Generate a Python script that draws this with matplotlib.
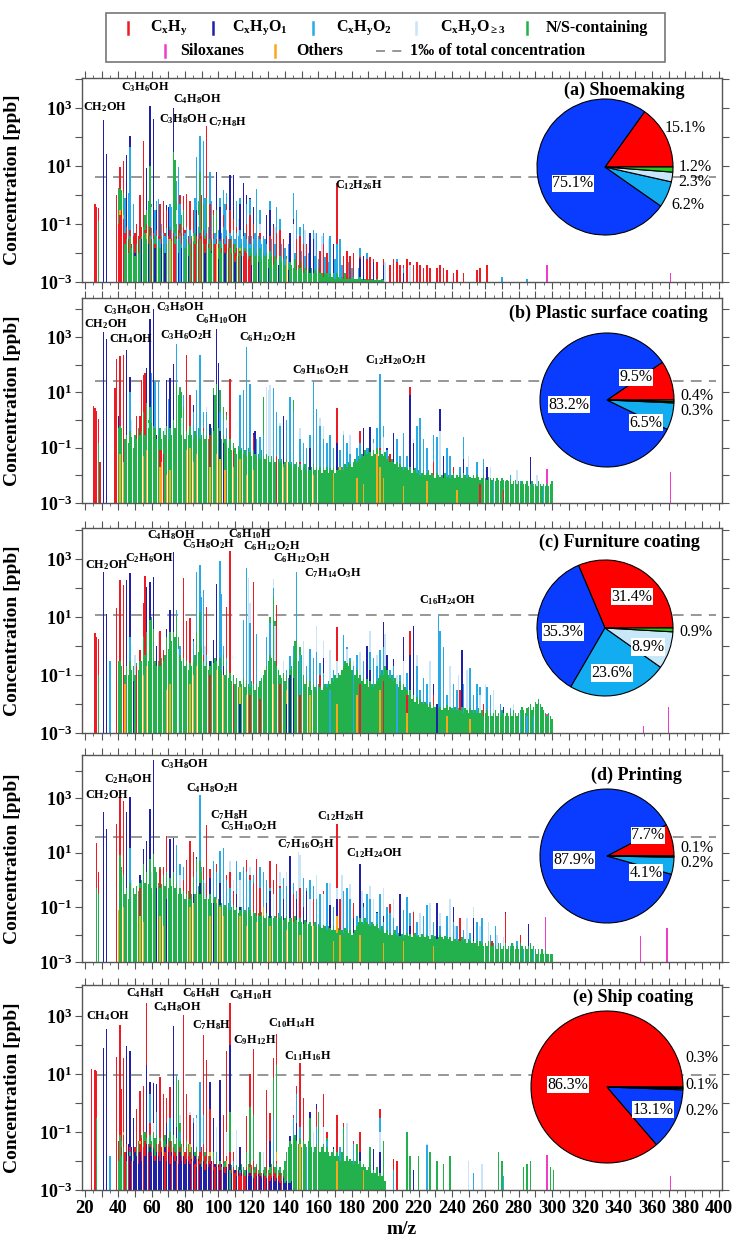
import numpy as np
import matplotlib
matplotlib.use('Agg')
import matplotlib.pyplot as plt
from matplotlib.lines import Line2D
from matplotlib.patches import Rectangle
from matplotlib.ticker import FixedLocator, FuncFormatter, MultipleLocator, NullLocator

plt.rcParams['font.family'] = ['Liberation Serif', 'DejaVu Serif']
plt.rcParams['font.weight'] = 'bold'
plt.rcParams['axes.labelweight'] = 'bold'
plt.rcParams['mathtext.fontset'] = 'custom'
plt.rcParams['mathtext.rm'] = 'Liberation Serif:bold'
plt.rcParams['mathtext.it'] = 'Liberation Serif:italic:bold'
plt.rcParams['mathtext.bf'] = 'Liberation Serif:bold'

# colours of the ion groups
col_hc = '#ed1c24'
col_o1 = '#2020a8'
col_o2 = '#29a9e6'
col_o3 = '#c9e4f6'
col_ns = '#22b14c'
col_si = '#f03cc8'
col_ot = '#f7a81b'
pie_cols = ['#ff0000', '#0a3cff', '#12adf0', '#c8e8fa', '#22cc22']

# ---------------- (a) Shoemaking : (m/z, ppb) ----------------
a_hc = [(26,0.5),(27,0.4),(28,0.35),(39,1.0),(41,9),(43,15),(51,0.1),(53,1.0),(55,70),(65,0.5),(67,0.6),(69,0.3),
        (77,1.0),(79,0.9),(81,1.1),(83,0.6),(85,0.3),(90,1.0),(93,230),(95,0.5),(97,0.3),(103,0.2),(105,0.5),(107,0.3),
        (109,0.15),(111,0.08),(117,0.1),(119,0.2),(121,0.1),(125,0.05),(131,0.04),(133,0.08),(135,0.05),(137,0.06),
        (139,0.03),(147,0.03),(149,0.04),(151,0.02),(153,0.02),(161,0.012),(163,0.02),(165,0.01),(171,2.5),(175,0.008),
        (177,0.012),(179,0.008),(181,0.01),(185,0.007),(189,0.006),(191,0.007),(193,0.006),(195,0.005),(199,0.006),
        (203,0.004),(205,0.006),(207,0.005),(209,0.004),(211,0.004),(213,0.006),(215,0.005),(217,0.004),(219,0.005),
        (221,0.004),(223,0.003),(225,0.004),(227,0.003),(231,0.003),(233,0.004),(235,0.003),(237,0.0025),(241,0.002),
        (243,0.0025),(247,0.002),(255,0.0025),(257,0.003),(261,0.004)]
a_hc_start = 40
a_hc_fill = [0.1,0.2,0.3,0.15,0.05,0.08,0.03,0.06,0.02,0.04,
             0.05,0.1,0.04,0.15,0.08,0.2,0.06,0.1,0.04,0.08,
             0.03,0.05,0.02,0.06,0.04,0.1,0.03,0.08,0.05,0.1,
             0.04,0.06,0.03,0.05,0.02,0.04,0.06,0.1,0.05,0.08,
             0.06,0.1,0.04,0.08,0.03,0.06,0.02,0.04,0.03,0.05,
             0.04,0.06,0.03,0.05,0.02,0.04,0.03,0.05,0.02,0.03,
             0.02,0.03,0.015,0.03,0.02,0.04,0.015,0.03,0.01,0.02,
             0.01,0.015,0.008,0.012,0.01,0.008,0.012,0.01,0.006,0.008]
a_o1 = [(31,400),(33,26),(45,24),(47,110),(57,8.5),(59,1150),(61,430),(63,0.3),(69,0.45),(70,0.4),(73,1000),(87,0.3),
        (99,6.3),(101,0.4),(107,5),(109,5),(113,0.5),(115,2.5),(117,1.0),(119,0.8),(121,0.4),(129,0.2),(131,0.3),
        (133,0.1),(143,0.05),(145,0.15),(155,0.05),(157,0.03),(169,0.02),(185,0.006),(187,0.008),(193,0.005),
        (199,0.004),(211,0.002),(48,0.02),(50,0.01),(54,0.03),(58,0.02),(62,0.015),(66,0.02),(68,0.01),(72,0.03),
        (76,0.01),(78,0.015),(82,0.008),(86,0.02),(92,0.01),(96,0.012),(100,0.006),(104,0.01),(110,0.005),(114,0.008),
        (120,0.004),(124,0.005),(130,0.003),(136,0.004),(142,0.0025)]
a_o2 = [(44,0.8),(46,1.2),(47,45),(49,0.5),(62,0.3),(63,0.6),(64,0.7),(71,0.5),(72,0.4),(75,3),(76,9),(77,0.5),
        (86,0.8),(87,21),(88,0.6),(89,105),(91,70),(92,0.8),(95,6),(96,0.6),(101,0.8),(103,1.5),(104,0.5),(105,1.2),
        (111,0.6),(113,0.8),(117,0.5),(119,0.7),(123,1.6),(125,0.3),(131,0.6),(135,0.4),(137,0.15),(145,1.15),
        (147,0.3),(149,0.08),(151,0.1),(157,0.06),(159,0.05),(163,0.05),(167,0.04),(171,0.02),(173,0.03),
        (185,0.015),(189,0.01),(207,0.006),(211,0.003),(270,0.0015),(285,0.0013),
        (132,0.03),(134,0.02),(138,0.02),(140,0.015),(142,0.02),(146,0.01),(150,0.012),(152,0.008),(154,0.01),
        (158,0.008),(160,0.006),(164,0.007),(166,0.005),(170,0.006),(174,0.004),(178,0.005),(180,0.003),(184,0.003)]
a_o2_start = 60
a_o2_fill = [0.05,0.03,0.08,0.04,0.06,0.03,0.1,0.05,0.04,0.07,
             0.03,0.06,0.04,0.08,0.05,0.03,0.07,0.04,0.06,0.03,
             0.05,0.08,0.04,0.06,0.03,0.05,0.1,0.04,0.07,0.05,
             0.04,0.06,0.03,0.05,0.08,0.04,0.06,0.03,0.05,0.04,
             0.06,0.03,0.05,0.08,0.04,0.06,0.03,0.05,0.04,0.06,
             0.03,0.05,0.04,0.06,0.03,0.04,0.05,0.03,0.04,0.02,
             0.04,0.03,0.05,0.02,0.04,0.03,0.02,0.04,0.03,0.02]
a_o3 = [(60,0.4),(75,0.3),(88,0.2),(105,0.3),(112,0.15),(125,0.1),(134,0.08),(145,0.1),(152,0.06),(158,0.05),
        (162,0.04),(166,0.03),(181,0.01),(200,0.005),(215,0.004)]
a_ns = [(28,0.13),(40,1.7),(41,1.6),(42,1.5),(43,1.2),(56,0.2),(57,0.3),(58,0.6),(59,10),(60,0.5),(62,0.3),(73,30),
        (74,16),(75,0.6),(78,0.2),(79,0.3),(85,0.3),(88,0.5),(89,6),(90,1.0),(91,0.5),(93,0.8),(97,0.2),(99,0.3)]
a_ns_start = 44
a_ns_fill = [0.02,0.03,0.01,0.04,0.015,0.02,0.008,0.02,0.01,0.03,
             0.04,0.08,0.05,0.03,0.1,0.04,0.07,0.02,0.04,0.02,
             0.03,0.015,0.04,0.02,0.05,0.02,0.03,0.08,0.025,0.06,
             0.04,0.1,0.03,0.05,0.02,0.04,0.015,0.03,0.02,0.02,
             0.04,0.025,0.05,0.02,0.08,0.03,0.06,0.02,0.04,0.02,
             0.015,0.03,0.01,0.02,0.02,0.04,0.015,0.025,0.01,0.02,
             0.02,0.01,0.02,0.015,0.03,0.01,0.02,0.008,0.015,0.01,
             0.02,0.008,0.015,0.01,0.008,0.015,0.01,0.02,0.008,0.01,
             0.008,0.015,0.006,0.01,0.008,0.01,0.006,0.012,0.008,0.004,
             0.008,0.006,0.004,0.008,0.005,0.006,0.004,0.008,0.003,0.005,
             0.004,0.003,0.006,0.0025,0.004,0.003,0.005,0.002,0.003,0.0025,
             0.003,0.002,0.003,0.002,0.0025,0.002,0.003,0.002,0.002,0.0015,
             0.002,0.002,0.0015,0.002,0.0015,0.002,0.0013,0.002,0.0015,0.0013,
             0.0015,0.0013,0.002,0.0013,0.0015,0.0013,0.0013,0.0015,0.0013,0.0013,
             0.0013,0.0015,0.0013,0.0012,0.0013,0.0012,0.0013,0.0012,0.0013,0.0012,
             0.0012,0.0013,0.0012,0.0012,0.0013,0.0012]
a_ot = [(41,0.3),(43,0.2),(57,0.05),(71,0.03),(85,0.04),(99,0.02),(113,0.015),(127,0.01),(141,0.006)]
a_si = [(297,0.004),(371,0.002)]
a_pie = [15.1, 75.1, 6.2, 2.3, 1.2]

# ---------------- (b) Plastic surface coating ----------------
b_hc = [(25,3.2),(26,2.8),(27,2.1),(28,1.1),(29,0.03),(38,14),(39,160),(41,200),(43,220),(51,1.4),(53,1.4),(54,28),
        (55,42),(56,50),(65,0.08),(66,0.08),(67,0.06),(81,220),(83,8),(91,0.5),(95,0.3),(105,2),(107,30),(109,0.08),
        (121,0.3),(135,0.05),(149,0.03),(171,2.8),(185,0.4),(197,0.1),(203,0.06),(215,16),(229,0.03),(241,0.02),
        (257,0.005),(271,0.003)]
b_o1 = [(31,1500),(33,870),(40,1.4),(45,350),(47,37),(57,75),(59,4500),(61,10000),(63,0.3),(69,28),(71,32),(73,110),
        (85,3.6),(95,0.7),(97,8),(99,2000),(100,120),(101,0.4),(103,0.15),(121,0.35),(122,0.4),(139,1.4),(155,0.1),
        (171,0.15),(187,0.5),(191,0.55),(201,0.1),(203,0.06),(205,0.35),(215,8),(217,0.15),(233,2.5),(235,0.05),
        (247,0.04),(261,0.02),(287,0.045)]
b_o2 = [(47,10),(60,50),(62,25),(64,25),(70,6),(75,570),(77,16),(79,8),(85,2),(87,12),(89,220),(91,2),(93,2),(97,8),
        (101,2),(103,1),(105,0.5),(113,8),(115,12),(117,450),(119,21),(123,0.2),(125,0.25),(127,0.3),(133,15),(135,2),
        (137,0.6),(141,1),(143,7),(145,2),(149,0.2),(151,0.15),(153,0.1),(155,0.3),(157,25),(159,2.5),(161,0.6),
        (163,0.2),(165,0.15),(167,0.3),(169,0.1),(173,0.08),(175,0.3),(177,0.15),(179,0.06),(183,0.1),(185,0.15),
        (189,0.1),(193,0.2),(195,0.5),(197,45),(199,0.6),(201,0.08),(207,0.2),(209,0.05),(211,0.35),(213,0.05),
        (219,0.6),(221,1.2),(223,0.2),(225,0.1),(229,0.3),(231,0.25),(237,0.1),(239,0.05),(245,0.02),(247,0.25),
        (249,0.02),(255,0.03),(259,0.04),(265,0.006),(275,0.01),(281,0.006),(289,0.005),(295,0.004)]
b_o3 = [(48,1),(58,0.8),(68,0.5),(78,1.2),(93,3),(105,1),(129,16),(130,12),(131,18),(137,0.8),(149,0.5),(161,1.2),
        (163,0.6),(175,0.4),(179,0.3),(193,0.15),(199,0.25),(217,0.2),(233,0.4),(250,0.05),(263,0.02),(279,0.015),
        (291,0.01)]
b_ns = [(28,0.15),(40,0.5),(41,0.6),(42,0.5),(55,2),(57,4),(58,1),(59,3),(60,0.8),(61,0.6),(73,1),(75,20),(76,8),
        (77,15),(78,10),(79,3),(97,15),(98,8),(99,20),(101,12),(103,3),(105,1.5),(127,7),(145,5.5)]
b_ns_start = 44
b_ns_fill = [0.2,0.3,0.15,0.4,0.25,0.1,0.3,0.2,0.5,0.3,
             0.4,0.6,0.3,0.8,0.5,0.4,0.6,0.3,0.5,0.2,
             0.3,0.5,0.2,0.4,0.3,0.6,0.2,0.5,0.3,0.4,
             0.5,0.8,0.4,0.6,0.3,0.5,0.2,0.4,0.3,0.6,
             0.3,0.2,0.4,0.3,0.5,0.2,0.3,0.4,0.2,0.3,
             0.2,0.3,0.5,0.4,0.6,0.3,0.5,0.4,0.2,0.3,
             0.2,0.15,0.1,0.2,0.08,0.15,0.1,0.06,0.12,0.08,
             0.1,0.06,0.08,0.05,0.1,0.07,0.05,0.08,0.06,0.05,
             0.06,0.04,0.08,0.05,0.04,0.06,0.05,0.03,0.05,0.04,
             0.03,0.05,0.04,0.03,0.04,0.025,0.03,0.04,0.03,0.025,
             0.03,0.02,0.025,0.03,0.02,0.025,0.015,0.02,0.025,0.015,
             0.02,0.015,0.02,0.025,0.015,0.02,0.015,0.02,0.012,0.018,
             0.015,0.02,0.012,0.018,0.015,0.02,0.012,0.015,0.02,0.015,
             0.02,0.015,0.025,0.02,0.03,0.025,0.02,0.03,0.04,0.03,
             0.05,0.04,0.06,0.05,0.08,0.06,0.1,0.07,0.05,0.08,
             0.06,0.1,0.05,0.08,0.06,0.05,0.07,0.04,0.05,0.03,
             0.04,0.03,0.025,0.03,0.02,0.025,0.02,0.015,0.02,0.018,
             0.015,0.02,0.012,0.015,0.018,0.012,0.015,0.01,0.012,0.015,
             0.01,0.012,0.015,0.01,0.012,0.01,0.008,0.012,0.01,0.009,
             0.01,0.008,0.012,0.009,0.01,0.008,0.01,0.012,0.008,0.01,
             0.009,0.01,0.008,0.012,0.01,0.008,0.01,0.009,0.008,0.01,
             0.008,0.01,0.009,0.007,0.008,0.01,0.008,0.007,0.009,0.008,
             0.007,0.008,0.006,0.008,0.007,0.006,0.008,0.007,0.006,0.007,
             0.006,0.007,0.005,0.006,0.007,0.005,0.006,0.005,0.006,0.005,
             0.005,0.006,0.004,0.005,0.006,0.004,0.005,0.004,0.006,0.005,
             0.004,0.005,0.004,0.005,0.004,0.005,0.006]
b_ot = [(41,0.06),(43,0.03),(55,0.05),(57,0.08),(65,0.02),(66,0.03),(69,0.01),(71,0.015),(81,0.08),(83,0.1),(85,0.03),
        (87,0.06),(95,0.02),(99,0.06),(101,0.04),(104,0.015),(109,0.02),(113,0.04),(117,0.01),(121,0.015),(139,0.02),
        (141,0.03),(157,0.01),(169,0.012),(173,0.02),(183,0.008),(187,0.005),(195,0.06),(197,0.02),(199,0.008),
        (211,0.004),(225,0.006),(243,0.003)]
b_si = [(297,0.017),(371,0.013)]
b_pie = [9.5, 83.2, 6.5, 0.3, 0.4]

# ---------------- (c) Furniture coating ----------------
c_hc = [(26,2.8),(27,2.0),(28,1.8),(39,20),(41,190),(43,125),(51,0.2),(53,0.7),(55,30),(56,250),(65,3.4),(67,0.7),
        (79,220),(81,7.5),(83,9),(91,0.5),(93,22),(95,0.1),(105,22),(107,1900),(109,0.05),(119,0.02),(121,165),
        (125,0.015),(135,25),(137,0.05),(149,0.02),(161,0.1),(171,4.4),(185,0.05),(199,0.06),(213,0.02),(215,3.4),
        (229,0.02),(245,0.03),(259,0.01)]
c_o1 = [(31,370),(33,13),(45,190),(47,340),(49,0.06),(57,110),(59,165),(61,235),(63,1),(69,4),(71,18),(73,1700),
        (85,1.8),(95,0.3),(97,1.55),(99,140),(103,0.2),(113,0.01),(141,0.01),(143,0.1),(145,0.08),(163,0.4),(189,1),
        (191,0.15),(199,6.8),(201,0.5),(205,0.35),(211,2),(215,0.5),(217,5),(229,0.05),(231,0.01),(246,0.7),(271,0.008)]
c_o2 = [(35,0.3),(47,2),(75,17),(77,1.0),(85,1.5),(87,370),(89,630),(90,50),(91,85),(93,0.5),(101,830),(102,63),
        (103,1),(105,0.4),(115,8),(117,490),(119,6),(123,2.6),(129,2),(131,6),(133,100),(141,0.15),(143,0.45),(145,1),
        (147,370),(149,0.5),(153,0.2),(155,0.8),(157,0.4),(159,0.6),(161,0.25),(163,0.12),(165,0.05),(167,0.03),
        (169,0.15),(175,2.3),(177,0.9),(179,0.4),(181,0.2),(183,0.5),(187,0.3),(191,0.6),(193,0.4),(195,0.2),
        (197,0.7),(199,0.9),(203,0.15),(205,0.2),(207,0.05),(209,0.1),(213,0.12),(219,0.2),(221,0.03),(223,0.08),
        (225,0.05),(227,0.012),(232,11.5),(233,3.4),(235,0.9),(237,0.02),(241,0.05),(243,0.03),(247,0.05),
        (251,0.18),(253,0.02),(255,0.05),(257,0.04),(261,0.04),(263,0.02),(269,0.01),(275,0.007),(281,0.005),
        (285,0.004),(289,0.004)]
c_o3 = [(50,0.5),(64,3),(76,0.8),(92,1.0),(118,220),(119,30),(133,200),(134,5),(139,0.3),(151,1.5),(159,5),(163,1.5),
        (167,0.7),(171,0.3),(177,0.8),(181,0.3),(185,0.6),(191,3.4),(195,0.5),(200,2.5),(207,0.1),(211,0.3),
        (219,0.5),(227,0.3),(239,0.2),(244,0.1),(249,0.15),(257,0.02),(260,0.05),(265,0.03),(277,0.01)]
c_ns = [(28,0.1),(40,0.3),(41,0.3),(42,0.2),(55,2),(56,0.5),(57,3),(59,8),(60,10),(61,4),(73,3),(75,11),(76,2),
        (87,3),(89,15),(90,0.9),(103,0.5),(131,10),(133,55),(134,7),(146,1.5),(147,1.6),(149,0.9),(150,0.5)]
c_ns_start = 44
c_ns_fill = [0.1,0.2,0.1,0.3,0.15,0.2,0.1,0.25,0.15,0.3,
             0.3,0.5,0.2,0.4,0.3,0.5,0.8,0.4,0.3,0.2,
             0.3,0.2,0.4,0.3,0.5,2,0.8,3,1.5,2.5,
             2,1.5,0.8,0.5,0.3,0.4,0.2,0.3,0.15,0.25,
             0.2,0.3,0.5,0.8,0.6,1,0.5,0.3,0.2,0.3,
             0.15,0.2,0.3,0.25,0.4,0.3,0.2,0.4,0.15,0.3,
             0.1,0.15,0.08,0.12,0.06,0.1,0.05,0.08,0.04,0.06,
             0.05,0.08,0.04,0.06,0.05,0.04,0.06,0.05,0.03,0.05,
             0.04,0.06,0.08,0.1,0.15,0.2,0.3,0.5,0.4,0.8,
             0.3,0.2,0.15,0.1,0.08,0.12,0.06,0.1,0.08,0.15,
             0.2,0.3,0.5,0.4,0.3,0.5,0.2,0.1,0.05,0.08,
             0.04,0.06,0.03,0.05,0.04,0.03,0.05,0.04,0.03,0.04,
             0.05,0.04,0.06,0.05,0.08,0.06,0.1,0.08,0.12,0.1,
             0.15,0.2,0.3,0.25,0.2,0.3,0.15,0.2,0.1,0.15,
             0.08,0.1,0.06,0.08,0.05,0.07,0.04,0.06,0.05,0.04,
             0.05,0.06,0.08,0.1,0.15,0.1,0.2,0.15,0.1,0.08,
             0.1,0.06,0.08,0.05,0.04,0.06,0.03,0.05,0.04,0.03,
             0.02,0.03,0.015,0.02,0.012,0.018,0.01,0.015,0.012,0.01,
             0.012,0.01,0.008,0.01,0.007,0.009,0.008,0.01,0.007,0.008,
             0.006,0.008,0.007,0.009,0.006,0.008,0.007,0.006,0.008,0.006,
             0.007,0.006,0.008,0.005,0.007,0.006,0.005,0.007,0.006,0.005,
             0.006,0.005,0.007,0.005,0.006,0.004,0.005,0.006,0.004,0.005,
             0.004,0.005,0.006,0.004,0.005,0.004,0.006,0.005,0.004,0.005,
             0.004,0.005,0.004,0.006,0.005,0.004,0.005,0.006,0.008,0.006,
             0.005,0.007,0.008,0.01,0.006,0.008,0.012,0.01,0.015,0.01,
             0.008,0.006,0.005,0.004,0.005,0.004,0.003]
c_ot = [(44,0.05),(55,0.1),(57,0.2),(69,0.03),(71,0.05),(83,0.05),(85,0.1),(87,0.2),(99,0.15),(103,0.1),(113,0.04),
        (117,0.02),(125,0.015),(133,0.05),(141,0.03),(155,0.02),(171,0.01),(183,0.02),(197,0.03),(213,0.005),
        (237,0.004),(251,0.003)]
c_si = [(297,0.0045),(355,0.0018),(370,0.008)]
c_pie = [31.4, 35.3, 23.6, 8.9, 0.9]

# ---------------- (d) Printing ----------------
d_hc = [(27,23),(28,2),(39,110),(41,1100),(43,800),(53,0.5),(65,2.5),(67,3),(69,40),(79,1),(81,5.4),(83,28),(85,11),
        (91,3),(93,100),(95,2.5),(99,4),(105,1.5),(107,2),(109,0.4),(117,5.4),(119,1.5),(121,0.8),(123,6),(125,0.5),
        (131,5),(133,1),(135,4),(137,0.6),(145,0.3),(149,0.5),(157,0.2),(163,0.4),(171,115),(173,0.2),(181,0.15),
        (203,0.13),(217,0.07),(245,0.04),(264,0.006),(272,0.06),(281,0.01)]
d_o1 = [(31,320),(33,75),(45,320),(47,1100),(53,1.5),(55,14),(57,27),(59,400),(61,25000),(63,0.5),(69,0.2),(71,32),
        (73,35),(85,0.3),(87,7),(89,0.8),(95,1.2),(97,0.15),(101,0.8),(111,0.3),(113,0.1),(129,0.15),(131,0.4),
        (139,0.2),(143,7.5),(147,0.2),(151,0.1),(153,0.4),(167,0.12),(171,0.2),(181,0.04),(185,4),(187,0.15),
        (195,0.07),(199,0.05),(209,0.3),(215,0.02),(231,0.15),(241,0.1),(253,0.04),(272,0.07),(286,0.025)]
d_o2 = [(47,15),(75,20),(77,4),(79,3),(87,2),(89,1250),(90,3),(91,1),(97,5),(99,2),(101,12),(103,15),(105,1),(107,0.5),
        (111,5),(113,2),(115,3),(117,2),(119,1),(121,1.5),(125,3),(127,2),(129,1),(131,0.5),(133,1),(137,0.5),
        (139,1.2),(141,0.6),(145,0.8),(147,0.4),(151,1.2),(153,0.5),(155,1),(157,0.6),(159,0.2),(161,0.3),(165,0.8),
        (169,0.1),(175,0.4),(177,0.5),(179,0.2),(183,0.05),(187,0.1),(189,0.3),(191,0.2),(195,0.06),(197,0.3),
        (199,0.03),(201,0.1),(203,0.06),(205,0.04),(207,0.02),(211,0.08),(213,0.25),(215,0.06),(219,0.03),
        (223,0.05),(225,0.12),(229,0.03),(233,0.02),(237,0.05),(241,0.03),(243,0.02),(247,0.015),(251,0.012),
        (255,0.03),(258,0.04),(263,0.01),(266,0.02),(269,0.005),(275,0.004),(279,0.006),(283,0.003),(289,0.003)]
d_o3 = [(48,1),(60,2),(77,1.5),(92,0.8),(107,5),(109,1),(113,1),(119,3),(125,0.5),(133,0.3),(137,2),(141,2),(148,11),
        (149,8),(155,0.2),(159,1.5),(163,0.3),(167,0.8),(171,0.5),(174,1.5),(179,0.7),(186,0.4),(191,0.6),(193,0.2),
        (199,0.5),(205,0.2),(209,0.3),(217,0.08),(221,0.06),(227,0.15),(233,0.06),(239,0.2),(242,0.02),(249,0.04),
        (253,0.1),(257,0.02),(262,0.03),(267,0.01),(271,0.008),(277,0.005)]
d_ns = [(27,0.5),(28,0.3),(41,8),(42,3),(43,1.5),(55,4),(57,2),(59,6),(61,9),(62,3),(63,2),(65,3),(67,1.5),(69,2),
        (71,1.2),(73,2),(75,0.8),(85,1.3),(87,6),(89,5),(90,2),(91,0.8)]
d_ns_start = 44
d_ns_fill = [0.3,0.5,0.2,0.8,1,0.5,0.3,0.6,0.4,0.8,
             1,0.6,0.8,1.2,0.7,1,0.5,0.8,1,0.6,
             0.8,0.5,0.7,0.4,0.6,0.8,0.5,0.4,0.6,0.3,
             0.5,0.4,0.3,0.5,0.3,0.4,0.2,0.3,0.4,0.2,
             0.3,0.5,0.3,0.4,0.6,0.3,0.2,0.3,0.2,0.25,
             0.2,0.3,0.15,0.2,0.25,0.15,0.2,0.12,0.15,0.1,
             0.12,0.1,0.15,0.08,0.1,0.12,0.08,0.1,0.06,0.08,
             0.1,0.07,0.08,0.06,0.1,0.08,0.05,0.07,0.06,0.05,
             0.06,0.05,0.07,0.05,0.04,0.06,0.05,0.04,0.05,0.04,
             0.05,0.04,0.06,0.04,0.05,0.035,0.04,0.05,0.03,0.04,
             0.04,0.03,0.05,0.035,0.03,0.04,0.03,0.025,0.035,0.03,
             0.025,0.03,0.02,0.025,0.03,0.02,0.025,0.02,0.018,0.022,
             0.02,0.015,0.02,0.018,0.015,0.02,0.015,0.012,0.018,0.015,
             0.015,0.012,0.018,0.015,0.012,0.015,0.01,0.012,0.015,0.02,
             0.03,0.04,0.03,0.025,0.04,0.03,0.025,0.02,0.03,0.025,
             0.02,0.025,0.018,0.015,0.02,0.015,0.012,0.015,0.01,0.012,
             0.01,0.012,0.015,0.01,0.012,0.009,0.011,0.008,0.01,0.012,
             0.009,0.011,0.008,0.01,0.012,0.009,0.01,0.008,0.011,0.009,
             0.008,0.01,0.009,0.007,0.01,0.008,0.009,0.007,0.008,0.01,
             0.008,0.007,0.009,0.008,0.007,0.008,0.006,0.008,0.007,0.006,
             0.007,0.006,0.008,0.006,0.007,0.005,0.007,0.006,0.005,0.006,
             0.005,0.006,0.004,0.006,0.005,0.004,0.005,0.004,0.006,0.005,
             0.004,0.005,0.004,0.003,0.005,0.004,0.003,0.004,0.005,0.003,
             0.004,0.003,0.005,0.004,0.003,0.004,0.003,0.005,0.004,0.003,
             0.004,0.003,0.004,0.005,0.003,0.004,0.003,0.002,0.003,0.002,
             0.003,0.002,0.003,0.002,0.002,0.002,0.002]
d_ot = [(40,0.08),(43,0.1),(53,0.05),(55,0.03),(65,0.05),(67,0.02),(83,0.1),(85,0.15),(87,0.4),(95,0.05),(99,0.2),
        (101,0.1),(103,0.05),(113,0.05),(117,0.02),(123,0.03),(127,0.1),(131,0.02),(141,0.015),(149,0.01),(153,0.03),
        (157,0.02),(169,0.006),(171,0.05),(173,0.01),(185,0.01),(199,0.005),(211,0.006),(229,0.004)]
d_si = [(296,0.043),(353,0.009),(369,0.017)]
d_pie = [7.7, 87.9, 4.1, 0.2, 0.1]

# ---------------- (e) Ship coating ----------------
e_hc = [(24,15),(26,14),(27,13),(39,40),(41,500),(42,3),(43,37),(51,0.6),(53,2.5),(55,4),(57,2700),(59,0.2),(65,8),
        (67,2),(69,1.5),(71,3.5),(79,1100),(81,2),(83,0.4),(91,220),(93,30),(95,0.6),(103,0.4),(105,60),(107,2800),
        (109,0.02),(117,0.35),(119,10),(121,70),(129,2.8),(131,0.45),(133,35),(135,230),(145,0.4),(147,4),(149,23),
        (151,1.5),(159,0.6),(163,2),(165,0.1),(171,0.4),(175,0.2),(181,0.05),(185,0.1),(197,0.6),(205,0.012),
        (207,0.01)]
e_hc_start = 40
e_hc_fill = [0.05,0.1,0.03,0.08,0.02,0.04,0.015,0.03,0.01,0.02,
             0.03,0.05,0.02,0.04,0.06,0.03,0.05,0.1,0.02,0.04,
             0.02,0.03,0.015,0.04,0.02,0.05,0.03,0.06,0.02,0.04,
             0.03,0.05,0.015,0.03,0.02,0.01,0.02,0.03,0.015,0.05,
             0.02,0.03,0.015,0.02,0.01,0.015,0.008,0.012,0.01,0.02,
             0.03,0.04,0.015,0.02,0.01,0.015,0.008,0.01,0.006,0.008,
             0.006,0.008,0.005,0.01,0.006,0.015,0.008,0.02,0.005,0.006,
             0.004,0.005,0.003,0.004,0.003,0.004,0.003,0.006,0.004,0.008,
             0.006,0.01,0.004,0.006,0.003,0.004,0.003,0.004,0.003,0.005,
             0.003,0.004,0.003,0.006,0.004,0.01,0.003,0.004,0.002,0.003]
e_o1 = [(31,80),(33,350),(45,95),(47,60),(49,0.3),(57,20),(59,5.5),(61,4.8),(63,4.5),(69,0.2),(73,450),(75,0.15),
        (85,0.2),(95,5.5),(97,0.3),(101,6),(107,100),(113,0.03),(131,0.05),(143,0.07),(147,0.2),(155,0.5),(159,0.9),
        (169,0.03),(185,0.02),(193,0.025),(197,0.02),(217,0.005)]
e_o1_start = 45
e_o1_fill = [0.02,0.04,0.015,0.03,0.01,0.02,0.015,0.008,0.02,0.01,
             0.03,0.015,0.04,0.02,0.03,0.015,0.025,0.01,0.02,0.015,
             0.01,0.02,0.015,0.03,0.01,0.02,0.008,0.02,0.015,0.01,
             0.015,0.008,0.02,0.01,0.015,0.008,0.012,0.01,0.008,0.012,
             0.01,0.015,0.006,0.012,0.008,0.006,0.01,0.005,0.008,0.006,
             0.008,0.01,0.005,0.008,0.006,0.007,0.005,0.008,0.006,0.004,
             0.006,0.005,0.008,0.004,0.006,0.005,0.003,0.005,0.004,0.005,
             0.004,0.003,0.005,0.003,0.004,0.003,0.0025,0.004,0.003,0.0035,
             0.003,0.0025,0.0035,0.003,0.0025,0.003,0.002,0.0025,0.003,0.002,
             0.0025,0.002,0.0018,0.002,0.0025,0.0018,0.002,0.0018,0.0017,0.002]
e_o2 = [(35,0.015),(49,0.3),(59,2),(63,0.5),(71,0.3),(75,9.5),(77,0.1),(85,0.3),(87,0.4),(89,5.5),(91,0.4),(97,0.3),
        (99,0.02),(103,0.4),(109,0.01),(133,0.3),(145,0.3),(147,2),(149,0.15),(153,0.03),(159,0.15),(165,0.05),
        (173,0.03),(181,0.04),(197,0.3),(205,0.005),(225,0.035),(253,0.004),(271,0.003)]
e_o3 = [(61,0.2),(77,0.4),(83,0.5),(87,0.3),(99,0.15),(105,0.1),(111,0.12),(127,0.02),(157,0.1),(163,0.15),(177,0.2),
        (197,0.1),(225,0.04),(250,0.01),(258,0.008)]
e_ns = [(27,0.3),(41,0.08),(42,0.05),(55,0.1),(75,7),(76,6),(77,0.2),(81,0.05),(97,0.02),(107,0.5),(113,0.03),
        (117,0.02),(119,0.7),(121,0.4),(125,0.02),(133,7),(135,20),(143,0.02),(155,0.3),(157,0.1),(160,0.5),
        (165,0.06),(175,0.15),(183,0.04),(191,0.03),(199,0.05),(213,0.1),(215,0.015),(220,0.015),(227,0.02),
        (231,0.01),(235,0.008),(239,0.015),(268,0.02),(270,0.01),(283,0.006),(285,0.008),(287,0.01),(299,0.006),
        (301,0.005)]
e_ns_start = 40
e_ns_fill = [0.01,0.02,0.015,0.03,0.02,0.01,0.015,0.02,0.01,0.015,
             0.02,0.03,0.05,0.04,0.08,0.05,0.1,0.06,0.04,0.08,
             0.05,0.1,0.06,0.08,0.04,0.06,0.03,0.05,0.08,0.04,
             0.06,0.1,0.05,0.08,0.04,0.06,0.03,0.05,0.04,0.03,
             0.02,0.03,0.04,0.02,0.03,0.015,0.02,0.03,0.015,0.02,
             0.01,0.015,0.02,0.01,0.015,0.008,0.01,0.015,0.008,0.01,
             0.008,0.01,0.006,0.008,0.01,0.006,0.008,0.005,0.007,0.006,
             0.005,0.007,0.006,0.005,0.008,0.006,0.005,0.007,0.008,0.006,
             0.007,0.005,0.006,0.008,0.005,0.006,0.004,0.005,0.006,0.004,
             0.005,0.006,0.008,0.01,0.006,0.008,0.005,0.006,0.004,0.005,
             0.01,0.02,0.03,0.05,0.04,0.06,0.08,0.05,0.04,0.06,
             0.03,0.05,0.04,0.03,0.05,0.04,0.03,0.02,0.03,0.04,
             0.03,0.02,0.03,0.04,0.02,0.03,0.02,0.015,0.02,0.025,
             0.015,0.02,0.015,0.01,0.02,0.015,0.01,0.015,0.01,0.012,
             0.01,0.008,0.01,0.012,0.008,0.01,0.006,0.008,0.006,0.005,
             0.006,0.005,0.004,0.005,0.004,0.006,0.003,0.004,0.003,0.003,
             0.002]
e_ot = [(43,0.1),(53,0.05),(55,0.03),(67,0.03),(79,0.02),(83,0.04),(95,0.02),(105,0.01),(121,0.01),(135,0.02),
        (149,0.04),(161,0.02),(165,0.03),(171,0.01),(187,0.005)]
e_si = [(297,0.016),(371,0.003)]
e_pie = [86.3, 13.1, 0.3, 0.1, 0.2]

# 1 per mille of the total concentration (dashed line)
dash_levels = [4.2, 26, 11.7, 37, 9.3]
titles = ['(a) Shoemaking', '(b) Plastic surface coating', '(c) Furniture coating', '(d) Printing', '(e) Ship coating']

# labelled ions: (text, m/z of text start, height)
a_peaks = [('CH$_2$OH',18.8,1050),('C$_3$H$_6$OH',41.6,5100),('C$_4$H$_8$OH',72.8,2000),('C$_3$H$_8$OH',64.4,400),
           ('C$_7$H$_8$H',93.8,316),('C$_{12}$H$_{26}$H',170,2.2)]
b_peaks = [('C$_3$H$_6$OH',30.8,9500),('C$_3$H$_8$OH',62.8,12600),('CH$_2$OH',19.6,3000),('CH$_4$OH',34.5,850),
           ('C$_6$H$_{10}$OH',86.2,4500),('C$_3$H$_6$O$_2$H',64.8,1150),('C$_6$H$_{12}$O$_2$H',112.2,1000),
           ('C$_9$H$_{16}$O$_2$H',144.2,65),('C$_{12}$H$_{20}$O$_2$H',188.2,147)]
c_peaks = [('CH$_2$OH',19.9,630),('C$_2$H$_6$OH',43.8,1080),('C$_4$H$_8$OH',57.1,6700),('C$_5$H$_8$O$_2$H',78,3160),
           ('C$_8$H$_{10}$H',105.8,7000),('C$_6$H$_{12}$O$_2$H',114.8,2770),('C$_6$H$_{12}$O$_3$H',132.6,1080),
           ('C$_7$H$_{14}$O$_3$H',151.1,325),('C$_{16}$H$_{24}$OH',220.1,38)]
d_peaks = [('C$_3$H$_8$OH',65,17800),('C$_2$H$_6$OH',31.3,5100),('CH$_2$OH',20,1300),('C$_4$H$_8$O$_2$H',80.8,2330),
           ('C$_7$H$_8$H',94.7,245),('C$_5$H$_{10}$O$_2$H',101.2,91),('C$_{12}$H$_{26}$H',159.1,214),
           ('C$_7$H$_{16}$O$_3$H',135,20),('C$_{12}$H$_{24}$OH',176.6,9.5)]
e_peaks = [('CH$_4$OH',20.6,1020),('C$_4$H$_8$H',44.6,6000),('C$_4$H$_8$OH',60.6,2100),('C$_6$H$_6$H',78.2,6000),
           ('C$_8$H$_{10}$H',106.6,5300),('C$_7$H$_8$H',84.2,490),('C$_9$H$_{12}$H',108.6,148),
           ('C$_{10}$H$_{14}$H',129.6,560),('C$_{11}$H$_{16}$H',139.6,40)]

# pie percentage labels: (text, x, y, boxed) in pie radius units
a_pie_txt = [('75.1%',-0.47,-0.24,True),('15.1%',1.18,0.57,False),('1.2%',1.32,0.0,False),('2.3%',1.32,-0.22,False),('6.2%',1.22,-0.56,False)]
b_pie_txt = [('83.2%',-0.57,-0.07,True),('9.5%',0.43,0.34,True),('6.5%',0.58,-0.34,True),('0.4%',1.34,0.06,False),('0.3%',1.34,-0.16,False)]
c_pie_txt = [('35.3%',-0.62,-0.06,True),('31.4%',0.4,0.46,True),('23.6%',0.1,-0.66,True),('8.9%',0.63,-0.28,True),('0.9%',1.34,-0.06,False)]
d_pie_txt = [('87.9%',-0.49,-0.06,True),('7.7%',0.61,0.31,True),('4.1%',0.58,-0.25,True),('0.1%',1.34,0.12,False),('0.2%',1.34,-0.1,False)]
e_pie_txt = [('86.3%',-0.51,0.03,True),('13.1%',0.61,-0.3,True),('0.3%',1.25,0.38,False),('0.1%',1.25,0.03,False),('0.2%',1.25,-0.32,False)]


def fill_pairs(start, vals):
    return list(zip(range(start, start + len(vals)), vals))


panels = [
    dict(series=[(a_hc, col_hc), (fill_pairs(a_hc_start, a_hc_fill), col_hc), (a_o1, col_o1),
                 (a_o2, col_o2), (fill_pairs(a_o2_start, a_o2_fill), col_o2),
                 (a_o3, col_o3), (a_ns, col_ns), (fill_pairs(a_ns_start, a_ns_fill), col_ns), (a_ot, col_ot), (a_si, col_si)],
         top=1.08e4, peaks=a_peaks, pie=a_pie, pie_txt=a_pie_txt),
    dict(series=[(b_hc, col_hc), (b_o1, col_o1), (b_o2, col_o2), (b_o3, col_o3), (b_ns, col_ns),
                 (fill_pairs(b_ns_start, b_ns_fill), col_ns), (b_ot, col_ot), (b_si, col_si)],
         top=2.6e4, peaks=b_peaks, pie=b_pie, pie_txt=b_pie_txt),
    dict(series=[(c_hc, col_hc), (c_o1, col_o1), (c_o2, col_o2), (c_o3, col_o3), (c_ns, col_ns),
                 (fill_pairs(c_ns_start, c_ns_fill), col_ns), (c_ot, col_ot), (c_si, col_si)],
         top=1.17e4, peaks=c_peaks, pie=c_pie, pie_txt=c_pie_txt),
    dict(series=[(d_hc, col_hc), (d_o1, col_o1), (d_o2, col_o2), (d_o3, col_o3), (d_ns, col_ns),
                 (fill_pairs(d_ns_start, d_ns_fill), col_ns), (d_ot, col_ot), (d_si, col_si)],
         top=3.8e4, peaks=d_peaks, pie=d_pie, pie_txt=d_pie_txt),
    dict(series=[(e_hc, col_hc), (fill_pairs(e_hc_start, e_hc_fill), col_hc), (e_o1, col_o1),
                 (fill_pairs(e_o1_start, e_o1_fill), col_o1), (e_o2, col_o2), (e_o3, col_o3), (e_ns, col_ns),
                 (fill_pairs(e_ns_start, e_ns_fill), col_ns), (e_ot, col_ot), (e_si, col_si)],
         top=1.17e4, peaks=e_peaks, pie=e_pie, pie_txt=e_pie_txt),
]

# layout in pixels
W, H = 738, 1243
ax_px = [(82, 78, 722, 282), (82, 298, 722, 503), (82, 528, 722, 733), (82, 755, 722, 962), (82, 985, 722, 1190)]
pie_px = [(605, 167, 68), (607, 400, 67), (605, 628, 68), (607, 856, 67), (607, 1087, 76)]
title_pos = [(0.942, 0.941), (0.977, 0.927), (0.966, 0.932), (0.9375, 0.903), (0.955, 0.941)]
grey = '#555555'

fig = plt.figure(figsize=(W / 100, H / 100), dpi=100)

for i, p in enumerate(panels):
    l, t, r, b = ax_px[i]
    ax = fig.add_axes([l / W, 1 - b / H, (r - l) / W, (b - t) / H])
    ax.set_yscale('log')

    xs, ys, cs = [], [], []
    for pairs, col in p['series']:
        for mz, v in pairs:
            xs.append(mz); ys.append(v); cs.append(col)
    order = np.argsort(ys, kind='stable')[::-1]
    xs = np.array(xs, float)[order]
    ys = np.array(ys, float)[order]
    cs = [cs[k] for k in order]
    ax.bar(xs, ys - 1e-4, bottom=1e-4, width=0.85, color=cs, linewidth=0, zorder=2)

    ax.axhline(dash_levels[i], xmin=0.02, xmax=0.99, color='#8f8f8f', lw=1.3, dashes=(6, 4), zorder=1)

    ax.set_xlim(18.2, 402)
    ax.set_ylim(1e-3, p['top'])
    last = (i == len(panels) - 1)

    ax.xaxis.set_major_locator(MultipleLocator(10))
    ax.xaxis.set_minor_locator(MultipleLocator(5))
    ax.xaxis.set_major_formatter(FuncFormatter(lambda v, pos: '%d' % v if int(round(v)) % 20 == 0 else ''))
    ax.yaxis.set_major_locator(FixedLocator([10.0 ** k for k in range(-3, 5)]))
    ax.yaxis.set_minor_locator(NullLocator())
    ax.yaxis.set_major_formatter(FuncFormatter(
        lambda v, pos: r'$\mathbf{10^{%d}}$' % round(np.log10(v)) if round(np.log10(v)) % 2 else ''))
    ax.tick_params(axis='x', which='major', direction='out', length=5, top=True, color=grey,
                   labelsize=13.5, labelbottom=last, pad=2)
    ax.tick_params(axis='x', which='minor', direction='out', length=2.5, top=True, color=grey)
    ax.tick_params(axis='y', which='major', direction='out', length=5, right=True, color=grey,
                   labelsize=13, pad=2)
    for s in ax.spines.values():
        s.set_color(grey)
        s.set_linewidth(1.0)

    ax.set_ylabel('Concentration [ppb]', fontsize=14, fontweight='bold')
    ax.yaxis.set_label_coords(-0.095, 0.5)

    for txt, mz, v in p['peaks']:
        ax.text(mz, v, txt, fontsize=8.8, ha='left', va='center', zorder=5)

    tx, ty = title_pos[i]
    ax.text(tx, ty, titles[i], transform=ax.transAxes, ha='right', va='center', fontsize=13, zorder=6)

    # composition pie
    cx, cy, rr = pie_px[i]
    pax = fig.add_axes([(cx - 1.5 * rr) / W, 1 - (cy + 1.5 * rr) / H, 3 * rr / W, 3 * rr / H])
    pax.pie(p['pie'], colors=pie_cols, startangle=0, counterclock=True, radius=1,
            wedgeprops=dict(edgecolor='black', linewidth=0.8))
    pax.set_xlim(-1.5, 1.5)
    pax.set_ylim(-1.5, 1.5)
    pax.set_aspect('equal')
    pax.axis('off')
    for txt, px, py, boxed in p['pie_txt']:
        kw = dict(bbox=dict(facecolor='white', edgecolor='none', pad=0.5)) if boxed else {}
        pax.text(px, py, txt, fontsize=11.5, weight='normal', ha='center', va='center', **kw)

fig.text(402 / W, 1 - 1230 / H, 'm/z', ha='center', va='center', fontsize=14)

# legend drawn by hand (two centred rows)
fig.add_artist(Rectangle((106 / W, 1 - 62 / H), (665 - 106) / W, 49 / H, transform=fig.transFigure,
                         facecolor='white', edgecolor='#777777', lw=1.2))
leg_row1 = [(col_hc, 128, 150, 'C$_\\mathrm{x}$H$_\\mathrm{y}$'),
            (col_o1, 213, 232, 'C$_\\mathrm{x}$H$_\\mathrm{y}$O$_1$'),
            (col_o2, 313, 336, 'C$_\\mathrm{x}$H$_\\mathrm{y}$O$_2$'),
            (col_o3, 416, 440, 'C$_\\mathrm{x}$H$_\\mathrm{y}$O$_{\\geq3}$'),
            (col_ns, 527, 546, 'N/S-containing')]
leg_row2 = [(col_si, 165, 180, 'Siloxanes'), (col_ot, 275, 296, 'Others')]
for row, yy in [(leg_row1, 28), (leg_row2, 51)]:
    for col, mx, tx, txt in row:
        fig.add_artist(Line2D([mx / W, mx / W], [1 - (yy - 6) / H, 1 - (yy + 6) / H], transform=fig.transFigure,
                              color=col, lw=1.8))
        fig.text(tx / W, 1 - yy / H, txt, ha='left', va='center', fontsize=11.5)
fig.add_artist(Line2D([376 / W, 402 / W], [1 - 51 / H, 1 - 51 / H], transform=fig.transFigure,
                      color='#8f8f8f', lw=1.3, dashes=(5, 4)))
fig.text(410 / W, 1 - 51 / H, '1\u2030 of total concentration', ha='left', va='center', fontsize=11.5)

fig.savefig('out.png', dpi=100)
